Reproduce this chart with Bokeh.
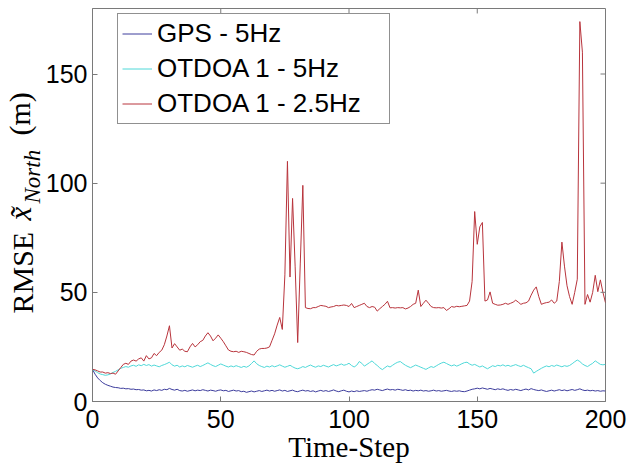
import math
from bokeh.plotting import figure
from bokeh.models import (Range1d, Legend, LegendItem, Title,
                          FixedTicker, ColumnDataSource)
from bokeh.embed import file_html
from bokeh.resources import INLINE

# ---------------- data ----------------
time_step = list(range(201))

gps_5hz = [
    14.7, 12.5, 10.8, 9.6, 8.6, 7.9, 7.4, 7.0, 6.6, 6.4,
    6.3, 6.0, 6.1, 5.8, 5.9, 5.6, 5.7, 5.4, 5.5, 5.2,
    5.3, 4.9, 5.1, 4.8, 5.3, 5.0, 5.4, 5.1, 5.6, 5.4,
    6.0, 5.5, 5.2, 5.6, 5.0, 4.8, 5.1, 4.7, 5.0, 5.3,
    4.9, 5.2, 5.0, 5.4, 5.1, 4.8, 5.2, 5.0, 4.7, 5.1,
    5.3, 4.9, 5.1, 4.6, 4.9, 5.2, 4.8, 5.0, 4.5, 4.7,
    4.2, 4.5, 4.8, 4.4, 4.7, 5.0, 4.6, 4.9, 5.2, 4.8,
    5.1, 4.7, 5.0, 5.3, 4.8, 5.1, 4.6, 4.9, 5.2, 4.7,
    4.5, 4.9, 5.2, 4.8, 5.0, 4.6, 4.9, 4.4, 4.8, 5.1,
    4.7, 5.0, 4.6, 4.9, 5.3, 4.8, 4.5, 4.9, 5.2, 4.7,
    4.4, 4.8, 4.5, 4.9, 4.6, 4.8, 5.0, 4.7, 5.1, 5.4,
    5.2, 5.6, 5.3, 5.0, 5.4, 5.7, 5.3, 5.5, 5.2, 5.6,
    5.4, 5.1, 5.4, 5.0, 5.2, 4.8, 5.1, 4.9, 5.2, 4.8,
    5.0, 4.7, 4.9, 5.2, 4.8, 5.0, 4.7, 4.9, 5.1, 4.8,
    4.6, 4.9, 4.7, 4.9, 4.6, 4.5, 4.8, 5.2, 5.6, 5.8,
    6.1, 5.8, 6.2, 5.9, 5.6, 6.0, 5.7, 5.4, 5.8, 5.5,
    5.8, 5.4, 5.1, 5.5, 5.2, 5.6, 5.3, 5.0, 5.4, 5.7,
    5.3, 5.9, 5.5, 5.2, 5.0, 5.3, 4.9, 4.6, 4.9, 5.2,
    4.8, 5.1, 5.4, 5.0, 5.3, 4.9, 5.2, 5.5, 5.1, 5.4,
    5.8, 5.3, 5.0, 5.2, 4.9, 5.1, 4.8, 5.0, 4.7, 4.9,
    4.8,
]

otdoa_5hz = [
    14.7, 14.0, 13.2, 12.6, 12.3, 12.0, 12.2, 12.6, 13.3, 13.8,
    14.5, 15.2, 15.6, 16.0, 15.7, 16.3, 16.6, 16.1, 16.8, 16.4,
    17.0, 16.5, 16.9, 16.2, 16.7, 16.3, 15.9, 16.5, 16.9, 17.4,
    18.0, 16.8, 16.2, 16.6, 15.8, 16.3, 15.9, 16.5, 16.1, 15.7,
    16.2, 16.6, 16.0, 16.5, 17.1, 17.7, 17.0, 16.4, 16.0, 16.6,
    17.2, 16.7, 16.2, 15.8, 16.3, 15.9, 16.4, 16.0, 15.6, 16.1,
    15.7, 16.3, 17.4, 18.6, 17.3, 16.5, 16.0, 15.6, 16.2, 15.8,
    16.4, 15.9, 16.3, 16.8, 16.2, 15.7, 16.1, 16.6, 15.9, 15.3,
    15.0, 15.4, 16.0, 15.6, 16.2, 16.7, 16.1, 15.7, 16.3, 16.0,
    16.6, 16.2, 15.8, 16.4, 16.9, 16.3, 16.7, 17.2, 16.6, 16.9,
    17.5, 16.5, 15.8, 16.6, 18.3, 17.5, 16.2, 17.0, 17.8, 18.6,
    17.4, 16.5, 15.4, 14.6, 15.5, 16.3, 15.8, 16.6, 17.4, 18.0,
    18.3, 17.4, 16.6, 16.0, 15.5, 16.1, 16.7, 16.2, 15.7, 15.2,
    14.7, 15.4, 16.0, 15.6, 16.3, 17.0, 17.6, 18.0, 17.4, 16.8,
    16.3, 16.8, 16.2, 16.7, 17.3, 17.8, 18.0, 17.2, 16.6, 17.0,
    16.4, 15.8, 16.3, 15.6, 15.0, 15.7, 16.4, 16.0, 16.6, 16.3,
    16.8, 16.2, 16.6, 16.1, 16.5, 16.9, 16.4, 16.0, 16.6, 16.0,
    15.5, 15.0, 13.0, 13.8, 14.5, 15.2, 15.8, 16.3, 15.9, 16.5,
    16.1, 16.7, 16.3, 15.9, 16.4, 16.1, 16.5, 17.3, 18.2, 19.0,
    18.3, 17.2, 16.5, 16.0, 16.8, 17.5, 18.6, 17.8, 17.0, 16.8,
    17.0,
]

otdoa_2_5hz = [
    14.7, 14.5, 14.0, 13.5, 13.5, 13.0, 13.2, 12.8, 13.0, 12.5,
    14.0, 15.5, 17.0, 17.5, 17.0, 18.5, 19.0, 18.5, 19.5, 20.0,
    18.5, 21.0, 19.5, 20.0, 22.0, 21.0, 22.5, 23.5, 26.0, 30.0,
    34.7, 24.5, 26.5, 25.0, 23.5, 24.0, 23.0, 22.8, 25.0, 26.6,
    25.0, 26.0, 27.4, 28.0, 30.0, 31.5, 30.0, 27.8, 29.0, 30.5,
    29.0, 27.4, 25.5, 23.6, 23.0, 22.8, 23.0, 22.5, 23.0, 22.8,
    22.5, 22.0, 21.5, 21.3, 23.0, 24.0, 24.3, 24.3, 24.5, 25.0,
    28.0, 31.0, 35.0, 38.5, 33.0, 58.0, 110.0, 57.0, 93.0, 62.0,
    27.0, 63.0, 99.0, 43.0, 42.6, 42.5, 43.0, 43.0, 43.5, 44.0,
    43.8, 43.6, 43.0, 43.3, 43.5, 44.0, 43.8, 44.0, 44.2, 44.0,
    43.5, 44.9, 43.0, 43.5, 44.0, 44.5, 45.0, 43.5, 43.0, 43.5,
    43.2, 41.4, 42.5, 43.5, 44.5, 45.9, 42.9, 43.0, 42.8, 43.0,
    42.9, 43.0, 42.4, 42.8, 43.5, 44.5, 45.0, 51.0, 43.5, 45.0,
    46.4, 45.0, 43.5, 43.0, 42.9, 43.0, 42.8, 43.0, 41.7, 42.5,
    43.5, 43.2, 43.6, 43.4, 43.6, 43.8, 44.0, 46.0, 55.0, 87.0,
    72.0, 80.0, 82.0, 46.0, 46.5, 50.2, 45.0, 44.5, 44.1, 44.2,
    44.5, 45.0, 44.5, 45.0, 45.5, 46.4, 45.5, 44.5, 45.0, 45.2,
    46.0, 48.7, 51.0, 52.5, 48.0, 44.5, 45.0, 45.3, 45.5, 46.5,
    45.0, 46.0, 55.0, 73.0, 62.0, 53.0, 48.0, 44.5, 50.0, 56.0,
    174.0, 160.0, 44.5, 49.0, 45.5, 50.0, 57.8, 50.3, 55.7, 50.0,
    45.2,
]

series_names = ["GPS - 5Hz", "OTDOA 1 - 5Hz", "OTDOA 1 - 2.5Hz"]
series_colors = ["#3c3c9c", "#4fd8d8", "#b8343c"]
x_ticks = [0, 50, 100, 150, 200]
y_ticks = [0, 50, 100, 150]
x_max = 200
y_max = 180

# ---------------- figure ----------------
W, H = 629, 465
BL, BR, BT, BB = 92, 24, 8, 62
p = figure(width=W, height=H,
           x_range=Range1d(0, x_max), y_range=Range1d(0, y_max),
           output_backend="svg", toolbar_location=None,
           min_border_left=BL, min_border_right=BR,
           min_border_top=BT, min_border_bottom=BB,
           background_fill_color="white", border_fill_color="white")
p.xgrid.visible = False
p.ygrid.visible = False
axis_gray = "#7a7a7a"
p.outline_line_color = axis_gray
p.outline_line_width = 1

tick_font = "Liberation Sans"
serif = "Liberation Serif"

for ax in p.xaxis:
    ax.ticker = FixedTicker(ticks=x_ticks)
    ax.major_label_standoff = 8
    ax.axis_label = "Time-Step"
    ax.axis_label_text_font = serif
    ax.axis_label_text_font_size = "29px"
    ax.axis_label_text_font_style = "normal"
    ax.axis_label_text_color = "black"
    ax.axis_label_standoff = 0
for ax in p.yaxis:
    ax.ticker = FixedTicker(ticks=y_ticks)
    ax.major_label_standoff = 5
for ax in list(p.xaxis) + list(p.yaxis):
    ax.major_label_text_font = tick_font
    ax.major_label_text_font_size = "25px"
    ax.major_label_text_color = "black"
    ax.axis_line_color = axis_gray
    ax.major_tick_line_color = axis_gray
    ax.major_tick_in = 5
    ax.major_tick_out = 0
    ax.minor_tick_line_color = None

src = ColumnDataSource(dict(t=time_step, gps=gps_5hz, o5=otdoa_5hz, o25=otdoa_2_5hz))
r1 = p.line("t", "gps", source=src, line_color=series_colors[0], line_width=1)
r2 = p.line("t", "o5", source=src, line_color=series_colors[1], line_width=1)
r3 = p.line("t", "o25", source=src, line_color=series_colors[2], line_width=1)

# mirrored 5px tick marks on the top and right edges (MATLAB box style)
tick_px = 5
dx = tick_px * x_max / (W - BL - BR)
dy = tick_px * y_max / (H - BT - BB)
top_x = x_ticks[1:-1]
right_y = y_ticks[1:]
p.segment(x0=top_x, y0=[y_max] * len(top_x), x1=top_x, y1=[y_max - dy] * len(top_x),
          line_color=axis_gray, line_width=1)
p.segment(x0=[x_max] * len(right_y), y0=right_y, x1=[x_max - dx] * len(right_y), y1=right_y,
          line_color=axis_gray, line_width=1)

legend = Legend(items=[LegendItem(label=series_names[0], renderers=[r1]),
                       LegendItem(label=series_names[1], renderers=[r2]),
                       LegendItem(label=series_names[2], renderers=[r3])],
                location=(25, 277),
                label_text_font=tick_font, label_text_font_size="26px",
                label_text_color="black",
                glyph_width=30, glyph_height=29, label_height=29,
                label_width=228, label_standoff=5,
                padding=4, spacing=4, margin=0,
                border_line_color="#222222", border_line_width=1,
                background_fill_color="white", background_fill_alpha=1)
p.add_layout(legend, "center")

# y-axis title built from pieces (roman, italic, italic subscript),
# each a vertical Title in the left panel
def ytitle(text, offset, size, style, standoff):
    p.add_layout(Title(text=text, align="left", offset=offset,
                       vertical_align="middle", standoff=standoff,
                       text_font=serif, text_font_size=size,
                       text_font_style=style, text_color="black"), "left")

ytitle("North", 198, "23px", "italic", -7)
ytitle("RMSE", 88, "30px", "normal", -34)
ytitle("x\u0303", 181, "31px", "italic", -35)
ytitle("(m)", 266, "30px", "normal", -34)

open("out.html", "w").write(file_html(p, INLINE))
